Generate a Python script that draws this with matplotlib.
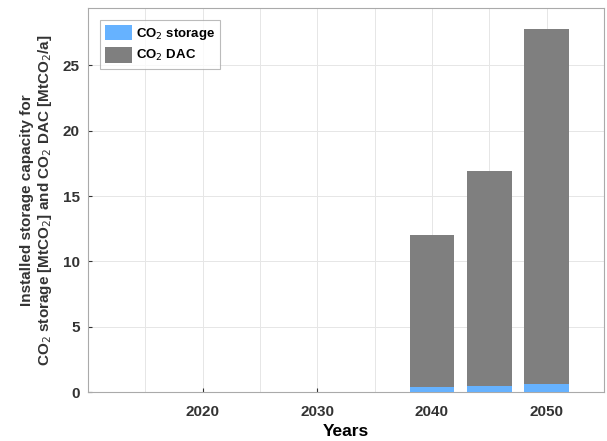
import matplotlib
matplotlib.use('Agg')
import matplotlib.pyplot as plt
from matplotlib.ticker import MultipleLocator

plt.rcParams['font.family'] = ['Liberation Sans', 'DejaVu Sans']

years = [2040, 2045, 2050]
co2_storage = [0.4, 0.5, 0.6]
co2_dac = [11.6, 16.4, 27.2]

fig = plt.figure(figsize=(6.07, 4.41), dpi=100)
ax = fig.add_axes([0.145, 0.111, 0.85, 0.871])

ax.bar(years, co2_storage, width=3.9, color='#66b2ff', label='CO$_2$ storage', zorder=3)
ax.bar(years, co2_dac, width=3.9, bottom=co2_storage, color='#7f7f7f', label='CO$_2$ DAC', zorder=3)

ax.set_xlim(2010, 2055)
ax.set_ylim(0, 29.4)
ax.set_xticks([2020, 2030, 2040, 2050])
ax.xaxis.set_minor_locator(MultipleLocator(5))
ax.set_yticks([0, 5, 10, 15, 20, 25])
ax.grid(True, which='both', color='#e6e6e6', linewidth=0.7, zorder=0)
ax.tick_params(which='both', direction='in', length=3, colors='#333333', labelsize=11, pad=6)
ax.tick_params(axis='x', pad=9)
ax.tick_params(which='minor', length=0)
for lbl in ax.get_xticklabels() + ax.get_yticklabels():
    lbl.set_fontweight('bold')
    lbl.set_color('#333333')
for sp in ax.spines.values():
    sp.set_color('#aaaaaa')
    sp.set_linewidth(0.8)

ax.set_xlabel('Years', fontsize=12.5, fontweight='bold', labelpad=4)
ax.set_ylabel('Installed storage capacity for\nCO$_2$ storage [MtCO$_2$] and CO$_2$ DAC [MtCO$_2$/a]',
              fontsize=11, fontweight='bold', color='#333333', labelpad=6)

leg = ax.legend(loc='upper left', prop={'weight': 'bold', 'size': 9.5},
                fancybox=False, edgecolor='#aaaaaa', handlelength=2.0, handleheight=1.4,
                borderaxespad=0.9, handletextpad=0.3, labelspacing=0.4)
leg.get_frame().set_linewidth(0.8)

plt.savefig('out.png', dpi=100)
